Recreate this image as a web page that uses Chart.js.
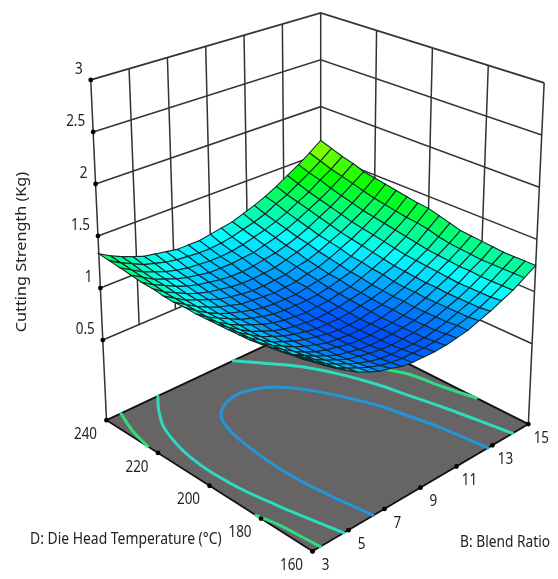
<!DOCTYPE html>
<html>
<head>
<meta charset="utf-8">
<style>
  html, body { margin: 0; padding: 0; background: #fff; }
  canvas { display: block; }
</style>
<script src="https://cdn.jsdelivr.net/npm/chart.js@4/dist/chart.umd.js"></script>
</head>
<body>
<canvas id="myChart" width="558" height="579"></canvas>
<script>
// axis values
const blendRatioTicks = [3, 5, 7, 9, 11, 13, 15];
const dieTempTicks = [160, 180, 200, 220, 240];
const strengthTicks = [0.5, 1, 1.5, 2, 2.5, 3];
const floorLevel = -0.27;

// surface grid, B goes 3 -> 15 along a row, D goes 160 -> 240 down the rows
const gridBlend = [3, 3.6, 4.2, 4.8, 5.4, 6, 6.6, 7.2, 7.8, 8.4, 9, 9.6, 10.2, 10.8, 11.4, 12, 12.6, 13.2, 13.8, 14.4, 15];
const gridTemp = [160, 164, 168, 172, 176, 180, 184, 188, 192, 196, 200, 204, 208, 212, 216, 220, 224, 228, 232, 236, 240];
const strengthRows = [
  [1.28, 1.21, 1.14, 1.08, 1.02, 0.98, 0.94, 0.92, 0.89, 0.88, 0.88, 0.88, 0.89, 0.91, 0.93, 0.97, 1.01, 1.06, 1.11, 1.18, 1.25],
  [1.26, 1.19, 1.12, 1.06, 1.01, 0.97, 0.93, 0.90, 0.88, 0.87, 0.87, 0.87, 0.88, 0.90, 0.93, 0.96, 1.00, 1.05, 1.11, 1.18, 1.25],
  [1.25, 1.17, 1.11, 1.05, 1.00, 0.96, 0.92, 0.89, 0.87, 0.86, 0.86, 0.86, 0.87, 0.89, 0.92, 0.96, 1.00, 1.05, 1.11, 1.18, 1.25],
  [1.23, 1.16, 1.10, 1.04, 0.99, 0.95, 0.91, 0.89, 0.87, 0.86, 0.85, 0.86, 0.87, 0.89, 0.92, 0.96, 1.00, 1.05, 1.11, 1.18, 1.25],
  [1.22, 1.15, 1.08, 1.03, 0.98, 0.94, 0.90, 0.88, 0.86, 0.85, 0.85, 0.86, 0.87, 0.89, 0.92, 0.96, 1.00, 1.05, 1.12, 1.18, 1.26],
  [1.21, 1.14, 1.08, 1.02, 0.97, 0.93, 0.90, 0.88, 0.86, 0.85, 0.85, 0.86, 0.87, 0.89, 0.92, 0.96, 1.01, 1.06, 1.12, 1.19, 1.27],
  [1.20, 1.13, 1.07, 1.02, 0.97, 0.93, 0.90, 0.87, 0.86, 0.85, 0.85, 0.86, 0.87, 0.90, 0.93, 0.97, 1.01, 1.07, 1.13, 1.20, 1.28],
  [1.20, 1.13, 1.07, 1.01, 0.97, 0.93, 0.90, 0.88, 0.86, 0.85, 0.85, 0.86, 0.88, 0.90, 0.93, 0.97, 1.02, 1.08, 1.14, 1.21, 1.29],
  [1.20, 1.13, 1.07, 1.01, 0.97, 0.93, 0.90, 0.88, 0.86, 0.86, 0.86, 0.87, 0.89, 0.91, 0.94, 0.98, 1.03, 1.09, 1.15, 1.23, 1.32],
  [1.20, 1.13, 1.07, 1.01, 0.97, 0.93, 0.90, 0.88, 0.87, 0.86, 0.87, 0.88, 0.90, 0.92, 0.95, 1.00, 1.04, 1.10, 1.17, 1.26, 1.35],
  [1.20, 1.13, 1.07, 1.02, 0.98, 0.94, 0.91, 0.89, 0.88, 0.87, 0.88, 0.89, 0.91, 0.93, 0.97, 1.01, 1.06, 1.12, 1.19, 1.28, 1.38],
  [1.20, 1.13, 1.08, 1.03, 0.98, 0.95, 0.92, 0.90, 0.89, 0.89, 0.89, 0.90, 0.92, 0.95, 0.98, 1.03, 1.08, 1.14, 1.21, 1.29, 1.39],
  [1.21, 1.14, 1.08, 1.03, 0.99, 0.96, 0.93, 0.91, 0.90, 0.90, 0.90, 0.92, 0.94, 0.96, 1.00, 1.04, 1.10, 1.16, 1.23, 1.31, 1.41],
  [1.21, 1.15, 1.09, 1.04, 1.00, 0.97, 0.94, 0.93, 0.92, 0.91, 0.92, 0.93, 0.96, 0.98, 1.02, 1.07, 1.12, 1.18, 1.25, 1.33, 1.43],
  [1.22, 1.16, 1.10, 1.06, 1.02, 0.98, 0.96, 0.94, 0.93, 0.93, 0.94, 0.95, 0.98, 1.00, 1.04, 1.09, 1.14, 1.20, 1.27, 1.35, 1.45],
  [1.24, 1.17, 1.12, 1.07, 1.03, 1.00, 0.98, 0.96, 0.95, 0.95, 0.96, 0.97, 1.00, 1.03, 1.07, 1.11, 1.17, 1.23, 1.30, 1.38, 1.47],
  [1.25, 1.19, 1.14, 1.09, 1.05, 1.02, 1.00, 0.98, 0.97, 0.97, 0.98, 1.00, 1.02, 1.05, 1.09, 1.14, 1.20, 1.26, 1.33, 1.41, 1.49],
  [1.27, 1.21, 1.15, 1.11, 1.07, 1.04, 1.02, 1.00, 1.00, 1.00, 1.01, 1.02, 1.05, 1.08, 1.12, 1.17, 1.23, 1.29, 1.36, 1.44, 1.53],
  [1.29, 1.23, 1.17, 1.13, 1.09, 1.06, 1.04, 1.03, 1.02, 1.02, 1.03, 1.05, 1.08, 1.11, 1.15, 1.20, 1.26, 1.32, 1.40, 1.47, 1.56],
  [1.31, 1.25, 1.20, 1.15, 1.12, 1.09, 1.07, 1.06, 1.05, 1.05, 1.06, 1.08, 1.11, 1.14, 1.18, 1.24, 1.29, 1.36, 1.43, 1.51, 1.60],
  [1.33, 1.27, 1.22, 1.18, 1.14, 1.12, 1.10, 1.08, 1.08, 1.08, 1.10, 1.12, 1.14, 1.18, 1.22, 1.27, 1.33, 1.40, 1.47, 1.55, 1.64]
];

// floor contours, read as [B, D]
const contourInnerB = [6.38, 6.08, 5.92, 6.0, 6.25, 6.7, 7.4, 8.4, 9.43, 10.06, 10.8, 11.4, 11.9, 12.24, 12.53, 12.75];
const contourInnerD = [160, 175.8, 190, 201, 213, 221, 225, 226.8, 225, 222, 215, 206.5, 197.5, 187, 176, 160];
const contourMidLowB = [5.88, 5.2, 4.4, 3.8, 3.75, 4.1, 4.4, 4.74];
const contourMidLowD = [240, 235, 227, 213, 197, 181, 171, 160];
const contourMidHighB = [10.1, 11.2, 11.88, 12.55, 13.0, 13.31, 13.62, 13.88, 14.12];
const contourMidHighD = [240, 231, 224.5, 214.7, 205, 194.5, 183.6, 172, 160];
const contourOuterCornerB = [3.8, 3.3, 3.0];
const contourOuterCornerD = [240, 232, 224];
const contourOuterFrontB = [3.0, 3.23, 3.33, 3.44];
const contourOuterFrontD = [182, 175, 168, 160];
const contourOuterBackB = [13.5, 14.08, 14.44, 14.7, 15];
const contourOuterBackD = [225, 208.6, 202.4, 190.6, 180];

// the picture is close to a stretched box, so corners + bilinear does it
const floorBox = { front: [313, 555], right: [532, 426], left: [104, 422], back: [321.3, 320] };
const topBox = { front: [314.7, 148], right: [548, 80], left: [88, 77], back: [321.3, 9] };

function bilinear(box, u, v, k) {
  return box.front[k] * (1 - u) * (1 - v) + box.right[k] * u * (1 - v) + box.left[k] * (1 - u) * v + box.back[k] * u * v;
}

function project(b, d, z) {
  const u = (b - 3) / 12;
  const v = (d - 160) / 80;
  const w = (z - floorLevel) / (3 - floorLevel);
  return {
    x: bilinear(floorBox, u, v, 0) * (1 - w) + bilinear(topBox, u, v, 0) * w,
    y: bilinear(floorBox, u, v, 1) * (1 - w) + bilinear(topBox, u, v, 1) * w
  };
}

// blue -> cyan -> green -> yellow
function surfaceColor(z) {
  const t = Math.max(0, Math.min(3, (z - 0.75) / 0.333));
  let r = 0, g = 0, b = 0;
  if (t < 1) { g = t * 255; b = 255; }
  else if (t < 2) { g = 255; b = (2 - t) * 255; }
  else { r = (t - 2) * 255; g = 255; }
  return 'rgb(' + Math.round(r) + ',' + Math.round(g) + ',' + Math.round(b) + ')';
}

function lineSet(points, color, width) {
  return { data: points, showLine: true, borderColor: color, borderWidth: width, pointRadius: 0, fill: false };
}

function contourSet(bs, ds, color) {
  const pts = bs.map((b, i) => project(b, ds[i], floorLevel));
  const set = lineSet(pts, color, 3);
  set.tension = 0.4;
  set.borderCapStyle = 'round';
  return set;
}

const painted = [];
const wallColor = '#333';

// back walls
strengthTicks.forEach(z => {
  painted.push(lineSet([project(3, 240, z), project(15, 240, z), project(15, 160, z)], wallColor, z === 3 ? 1.8 : 1.5));
});
blendRatioTicks.slice(1, -1).forEach(b => {
  painted.push(lineSet([project(b, 240, 0.5), project(b, 240, 3)], wallColor, 1.5));
});
dieTempTicks.slice(1, -1).forEach(d => {
  painted.push(lineSet([project(15, d, 0.5), project(15, d, 3)], wallColor, 1.5));
});
painted.push(lineSet([project(3, 240, floorLevel), project(3, 240, 3)], wallColor, 1.5));
painted.push(lineSet([project(15, 240, floorLevel), project(15, 240, 3)], wallColor, 1.5));
painted.push(lineSet([project(15, 160, floorLevel), project(15, 160, 3)], wallColor, 1.5));

// floor
const floorSet = lineSet([
  project(3, 160, floorLevel), project(15, 160, floorLevel),
  project(15, 240, floorLevel), project(3, 240, floorLevel), project(3, 160, floorLevel)
], '#111', 1.8);
floorSet.fill = 'shape';
floorSet.backgroundColor = '#666464';
painted.push(floorSet);

painted.push(contourSet(contourInnerB, contourInnerD, '#2396d8'));
painted.push(contourSet(contourMidLowB, contourMidLowD, '#2bdcc0'));
painted.push(contourSet(contourMidHighB, contourMidHighD, '#2bdcc0'));
painted.push(contourSet(contourOuterCornerB, contourOuterCornerD, '#2fdc80'));
painted.push(contourSet(contourOuterFrontB, contourOuterFrontD, '#2fdc80'));
painted.push(contourSet(contourOuterBackB, contourOuterBackD, '#2fdc80'));

// surface cells, far corner first
for (let j = gridTemp.length - 2; j >= 0; j--) {
  for (let i = gridBlend.length - 2; i >= 0; i--) {
    const z00 = strengthRows[j][i], z10 = strengthRows[j][i + 1];
    const z01 = strengthRows[j + 1][i], z11 = strengthRows[j + 1][i + 1];
    const cell = lineSet([
      project(gridBlend[i], gridTemp[j], z00),
      project(gridBlend[i + 1], gridTemp[j], z10),
      project(gridBlend[i + 1], gridTemp[j + 1], z11),
      project(gridBlend[i], gridTemp[j + 1], z01),
      project(gridBlend[i], gridTemp[j], z00)
    ], '#10292c', 1.1);
    cell.fill = 'shape';
    cell.backgroundColor = surfaceColor((z00 + z10 + z01 + z11) / 4);
    painted.push(cell);
  }
}

// tick dots
const dots = strengthTicks.map(z => project(3, 240, z))
  .concat(blendRatioTicks.map(b => project(b, 160, floorLevel)))
  .concat(dieTempTicks.map(d => project(3, d, floorLevel)));
painted.push({ data: dots, showLine: false, pointRadius: 2.4, pointBackgroundColor: '#000', pointBorderWidth: 0 });

// chart.js paints dataset 0 last, so flip the list
const datasets = painted.reverse();

// reference text is stretched a bit, so scale it instead of picking a bigger font
function stretchedText(ctx, text, x, y, sx, sy) {
  ctx.save();
  ctx.translate(x, y);
  ctx.scale(sx, sy);
  ctx.fillText(text, 0, 0);
  ctx.restore();
}

const chartText = {
  id: 'chartText',
  afterDraw(chart) {
    const { ctx, scales } = chart;
    const px = p => [scales.x.getPixelForValue(p.x), scales.y.getPixelForValue(p.y)];
    ctx.save();
    ctx.fillStyle = '#222';
    ctx.textBaseline = 'middle';
    ctx.font = '14px "Noto Sans"';

    ctx.textAlign = 'right';
    strengthTicks.forEach(z => {
      const [x, y] = px(project(3, 240, z));
      stretchedText(ctx, String(z), x - 8, y - 11, 0.96, 1.18);
    });
    ctx.textAlign = 'center';
    dieTempTicks.forEach(d => {
      const [x, y] = px(project(3, d, floorLevel));
      stretchedText(ctx, String(d), x - 21, y + 14, 0.96, 1.18);
    });
    blendRatioTicks.forEach(b => {
      const [x, y] = px(project(b, 160, floorLevel));
      stretchedText(ctx, String(b), x + 13, y + 14, 0.96, 1.18);
    });

    ctx.font = '13.5px "Noto Sans"';
    ctx.textAlign = 'left';
    stretchedText(ctx, 'D: Die Head Temperature (°C)', 30, 540, 1.03, 1.15);
    stretchedText(ctx, 'B: Blend Ratio', 460, 543, 1.02, 1.15);
    ctx.translate(22, 252);
    ctx.rotate(-Math.PI / 2);
    ctx.textAlign = 'center';
    stretchedText(ctx, 'Cutting Strength (Kg)', 0, 0, 1.2, 1.0);
    ctx.restore();
  }
};

new Chart(document.getElementById('myChart'), {
  type: 'scatter',
  data: { datasets },
  options: {
    responsive: false,
    animation: false,
    layout: { padding: 0 },
    plugins: { legend: { display: false }, tooltip: { enabled: false } },
    scales: {
      x: { type: 'linear', display: false, min: 0, max: 558 },
      y: { type: 'linear', display: false, min: 0, max: 579, reverse: true }
    }
  },
  plugins: [chartText]
});
</script>
</body>
</html>
